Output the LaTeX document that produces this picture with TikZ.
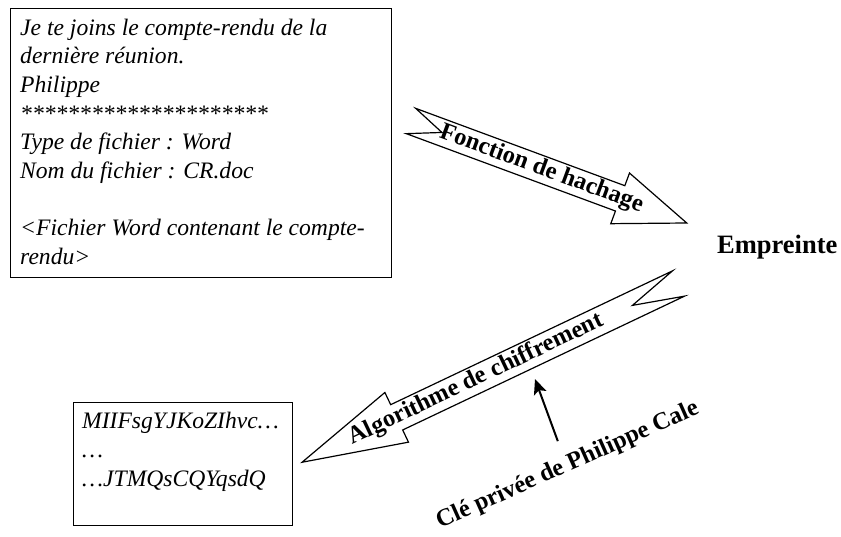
\documentclass[tikz,border=0pt]{standalone}
\usepackage{fontspec}
\setmainfont{Liberation Serif}
\usetikzlibrary{positioning,arrows.meta}

\begin{document}
\begin{tikzpicture}[x=1pt,y=-1pt,
	boite/.style={draw,line width=1.3pt,inner sep=0pt},
	texte/.style={inner sep=0pt,align=left,font=\fontsize{23.6}{28.6}\selectfont\itshape},
	gras/.style={inner sep=0pt,font=\fontsize{24.5}{29}\selectfont\bfseries},
	fleche/.style={draw,line width=1.2pt,line join=miter,fill=white}]
	\useasboundingbox (0,0) rectangle (841,536);

	\node[boite,anchor=north west,minimum width=381pt,minimum height=269pt] (message) at (10,8) {};
	\node[texte,anchor=base west] (contenu) at (20,264) {Je te joins le compte-rendu de la\\dernière réunion.\\Philippe\\*********************\\Type de fichier : Word\\Nom du fichier : CR.doc\\[28.6pt]<Fichier Word contenant le compte-\\rendu>};

	\node[boite,anchor=north west,minimum width=219pt,minimum height=123pt] (signature) at (73,402) {};
	\node[texte,anchor=base west] (code) at (82,486) {MIIFsgYJKoZIhvc…\\…\\…JTMQsCQYqsdQ};

	\node[gras,font=\fontsize{26.5}{30}\selectfont\bfseries,anchor=base west] (empreinte) at (717,253) {Empreinte};

	% fonction de hachage
	\begin{scope}[shift={(411,121)},rotate=-20.3]
		\draw[fleche] (0,-13.5) -- (223,-13.5) -- (223,-27) -- (294,0) -- (223,27) -- (223,13.5) -- (0,13.5) -- (33,0) -- cycle;
		\node[gras,rotate=-20.3] (hachage) at (139,0) {Fonction de hachage};
	\end{scope}

	% algorithme de chiffrement
	\begin{scope}[shift={(678.5,283.5)},rotate=205.4]
		\draw[fleche] (0,-14) -- (312,-14) -- (312,-27.5) -- (416.7,0) -- (312,27.5) -- (312,14) -- (0,14) -- (51,0) -- cycle;
		\node[gras,rotate=25.4] (chiffrement) at (224,0) {Algorithme de chiffrement};
	\end{scope}

	\node[gras,rotate=24,anchor=base] (cle) at (570,471) {Clé privée de Philippe Cale};
	\coordinate (pointe) at (535,379);
	\draw[line width=2pt,-{Stealth[length=15pt,width=13pt,inset=3pt]},shorten <=15pt] (cle.north) -- (pointe);
\end{tikzpicture}
\end{document}
